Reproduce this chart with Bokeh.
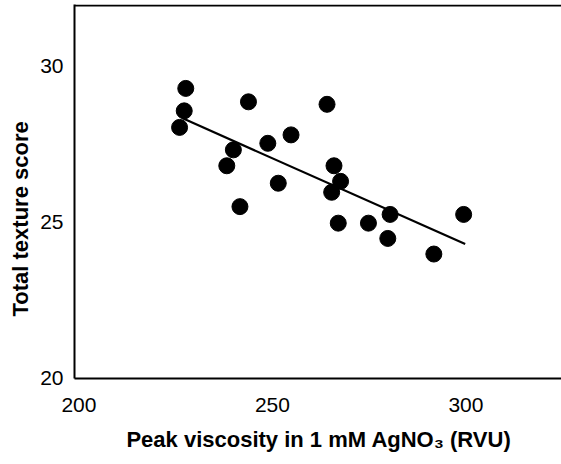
from bokeh.plotting import figure
from bokeh.models import FixedTicker, Range1d, ColumnDataSource, Span, Title
from bokeh.embed import file_html
from bokeh.resources import INLINE

# Data
peak_viscosity = [226.0, 227.2, 227.6, 238.2, 239.9, 241.6, 243.8, 248.8, 251.5, 254.8,
                  264.1, 265.3, 265.9, 267.0, 267.6, 274.8, 279.8, 280.4, 291.7, 299.4]
texture_score = [28.03, 28.56, 29.28, 26.80, 27.31, 25.49, 28.85, 27.52, 26.24, 27.79,
                 28.77, 25.95, 26.80, 24.96, 26.30, 24.96, 24.47, 25.24, 23.97, 25.24]
fit_x = [226.8, 299.8]
fit_y = [28.32, 24.29]
x_ticks = [200, 250, 300]
y_ticks = [20, 25, 30]

p = figure(width=563, height=456, output_backend="svg", toolbar_location=None,
           x_range=Range1d(198.85, 325.2), y_range=Range1d(19.98, 31.97),
           min_border_left=69, min_border_right=0, min_border_top=4, min_border_bottom=78,
           outline_line_color=None)
p.grid.visible = False
p.background_fill_color = "white"
p.border_fill_color = "white"

src = ColumnDataSource(dict(x=peak_viscosity, y=texture_score))
p.scatter("x", "y", source=src, size=16, fill_color="black", line_color="black")
p.line(fit_x, fit_y, line_color="black", line_width=2.2)

for ax in (p.xaxis[0], p.yaxis[0]):
    ax.axis_line_width = 2
    ax.axis_line_color = "black"
    ax.major_tick_line_color = None
    ax.minor_tick_line_color = None
    ax.major_label_text_font = "Liberation Sans"
    ax.major_label_text_font_size = "21px"
    ax.major_label_text_color = "black"
    ax.axis_label_text_font = "Liberation Sans"
    ax.axis_label_text_font_size = "22px"
    ax.axis_label_text_font_style = "bold"
    ax.axis_label_text_color = "black"

p.xaxis.ticker = FixedTicker(ticks=x_ticks)
p.yaxis.ticker = FixedTicker(ticks=y_ticks)
p.xaxis.axis_label = "Peak viscosity in 1 mM AgNO\u2083 (RVU)"
p.xaxis.major_label_standoff = 13
p.xaxis.axis_label_standoff = 12
p.yaxis.major_label_standoff = 5

ytitle = Title(text="Total texture score", align="left", offset=62, standoff=10,
               text_font="Liberation Sans", text_font_size="22px",
               text_font_style="bold", text_color="black")
p.add_layout(ytitle, "left")

p.add_layout(Span(location=31.94, dimension="width", line_color="black", line_width=2))

open("out.html", "w").write(file_html(p, INLINE))
